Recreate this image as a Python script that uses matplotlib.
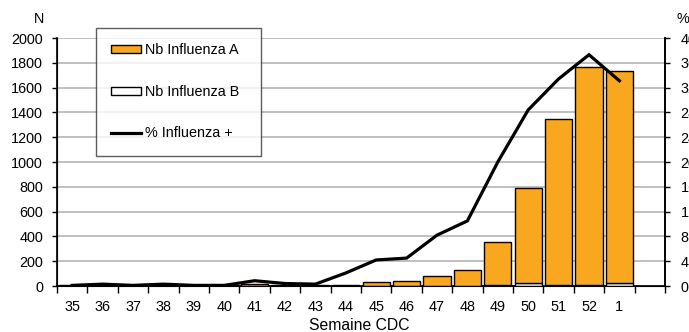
import matplotlib
matplotlib.use("Agg")
import matplotlib.pyplot as plt
import numpy as np

plt.rcParams['font.family'] = ['Liberation Sans', 'DejaVu Sans']

weeks = ["35", "36", "37", "38", "39", "40", "41", "42", "43", "44",
         "45", "46", "47", "48", "49", "50", "51", "52", "1"]
nb_flu_a = [5, 8, 3, 6, 2, 3, 12, 5, 4, 8,
            28, 40, 80, 128, 352, 772, 1340, 1760, 1708]
nb_flu_b = [3, 3, 2, 3, 2, 2, 4, 3, 3, 3,
            3, 4, 4, 4, 6, 22, 10, 8, 24]
pct_flu_pos = [0.1, 0.3, 0.1, 0.3, 0.1, 0.1, 0.85, 0.4, 0.3, 2.1,
               4.2, 4.5, 8.2, 10.5, 20.0, 28.4, 33.4, 37.3, 33.1]

bar_color = "#F9A71F"
fs = 10.4

fig = plt.figure(figsize=(6.89, 3.32), dpi=100)
W, H = 689, 332
ax = fig.add_axes([57 / W, (332 - 286) / H, (665 - 57) / W, (286 - 38) / H])

x = np.arange(len(weeks))
ax.bar(x, nb_flu_b, width=0.9, color="white", edgecolor="black",
       linewidth=1.0, label="Nb Influenza B", zorder=3)
ax.bar(x, nb_flu_a, width=0.9, bottom=nb_flu_b, color=bar_color,
       edgecolor="black", linewidth=1.0, label="Nb Influenza A", zorder=3)

ax.set_xlim(-0.5, len(weeks) + 0.5)
ax.set_ylim(0, 2000)
ax.set_yticks(np.arange(0, 2001, 200))
ax.yaxis.grid(True, color="#B4B4B4", linewidth=1.2, zorder=0)
ax.set_axisbelow(True)

ax.set_xticks(x)
ax.set_xticklabels(weeks)
ax.set_xticks(np.arange(-0.5, len(weeks) + 0.6, 1), minor=True)
ax.tick_params(axis="x", which="major", length=0, pad=10, labelsize=fs)
ax.tick_params(axis="x", which="minor", length=5, width=1.0, direction="out")
ax.tick_params(axis="y", length=3.6, width=1.0, direction="out", labelsize=fs, pad=6.5)

ax.spines["top"].set_visible(False)
for side in ["left", "bottom", "right"]:
    ax.spines[side].set_linewidth(1.2)

# axis title placed in figure pixels so it stays inside the canvas
fig.text(359 / W, 1 - 325 / H, "Semaine CDC", fontsize=11.3,
         ha="center", va="center")

ax2 = ax.twinx()
ax2.plot(x, pct_flu_pos, color="black", linewidth=2.3,
         label="% Influenza +", zorder=5, solid_joinstyle="miter")
ax2.set_ylim(0, 40)
ax2.set_yticks(np.arange(0, 41, 4))
ax2.tick_params(axis="y", length=3.6, width=1.0, direction="out", labelsize=fs, pad=7.5)
ax2.spines["top"].set_visible(False)
ax2.spines["right"].set_linewidth(1.2)

fig.text(39 / W, 1 - 19 / H, "N", fontsize=fs, ha="center", va="center")
fig.text(683 / W, 1 - 19 / H, "%", fontsize=fs, ha="center", va="center")

h1, l1 = ax.get_legend_handles_labels()
h2, l2 = ax2.get_legend_handles_labels()
handles = [h1[1], h1[0], h2[0]]
labels = [l1[1], l1[0], l2[0]]
leg = ax2.legend(handles, labels, loc="upper left",
                 bbox_to_anchor=(0.0637, 0.539, 0.272, 0.5), mode="expand",
                 borderaxespad=0, fontsize=fs, frameon=True, fancybox=False,
                 edgecolor="#333333", labelspacing=1.9, borderpad=1.05,
                 handlelength=2.1, handletextpad=0.28, handleheight=0.5)
leg.get_frame().set_linewidth(1.0)

fig.savefig("out.png", dpi=100)
